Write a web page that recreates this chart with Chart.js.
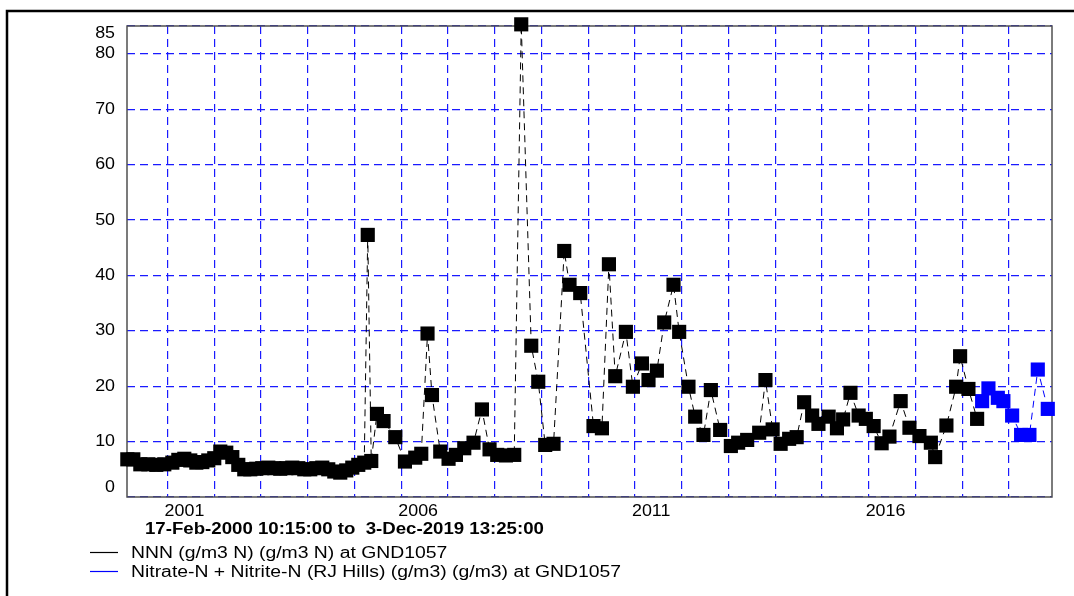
<!DOCTYPE html>
<html>
<head>
<meta charset="utf-8">
<script src="https://cdn.jsdelivr.net/npm/chart.js@4.4.0/dist/chart.umd.min.js"></script>
<style>
  html, body { margin: 0; padding: 0; background: #fff; }
  canvas { display: block; }
</style>
</head>
<body>
<canvas id="nitrateChart" width="1074" height="596"></canvas>
<script>
// Sample times as decimal years, concentrations in g/m3
const nnnDates = [
    2000.138, 2000.266, 2000.416, 2000.587, 2000.758, 2000.929, 2001.101, 2001.229, 2001.357, 2001.485,
    2001.614, 2001.742, 2001.870, 2001.998, 2002.127, 2002.255, 2002.384, 2002.512, 2002.640, 2002.769,
    2002.897, 2003.025, 2003.154, 2003.282, 2003.410, 2003.539, 2003.667, 2003.796, 2003.924, 2004.052,
    2004.181, 2004.309, 2004.437, 2004.566, 2004.694, 2004.822, 2004.951, 2005.079, 2005.207,
    2005.282, 2005.357, 2005.479, 2005.620, 2005.871, 2006.078, 2006.298, 2006.427, 2006.561, 2006.656,
    2006.833, 2007.011, 2007.169, 2007.347, 2007.545, 2007.725, 2007.888, 2008.052, 2008.239, 2008.416,
    2008.566, 2008.780, 2008.930, 2009.079, 2009.257, 2009.486, 2009.599, 2009.828, 2010.112, 2010.292,
    2010.442, 2010.577, 2010.805, 2010.955, 2011.148, 2011.289, 2011.468, 2011.625, 2011.824, 2011.945,
    2012.144, 2012.288, 2012.465, 2012.623, 2012.822, 2013.051, 2013.207, 2013.400, 2013.657, 2013.791,
    2013.945, 2014.116, 2014.298, 2014.459, 2014.619, 2014.790, 2014.925, 2015.143, 2015.321, 2015.453,
    2015.610, 2015.785, 2015.939, 2016.106, 2016.277, 2016.444, 2016.684, 2016.872, 2017.086, 2017.330,
    2017.422, 2017.663, 2017.871, 2017.956, 2018.134, 2018.320
];
const nnnValues = [
    6.8, 6.8, 5.9, 5.9, 5.8, 5.9, 6.2, 6.7, 6.9, 6.6,
    6.2, 6.3, 6.6, 7.0, 8.2, 8.0, 7.2, 5.8, 5.0, 5.0,
    5.1, 5.2, 5.3, 5.2, 5.1, 5.2, 5.3, 5.2, 5.0, 5.0,
    5.2, 5.3, 5.0, 4.6, 4.4, 4.8, 5.3, 5.8, 6.2,
    47.3, 6.5, 15.0, 13.7, 10.8, 6.4, 7.1, 7.8, 29.5, 18.4,
    8.2, 6.9, 7.6, 8.8, 9.8, 15.8, 8.6, 7.6, 7.5, 7.6,
    85.3, 27.3, 20.8, 9.4, 9.6, 44.4, 38.3, 36.8, 12.8, 12.4,
    42.0, 21.8, 29.8, 19.9, 24.1, 21.1, 22.8, 31.5, 38.3, 29.8,
    19.9, 14.5, 11.2, 19.3, 12.1, 9.2, 9.8, 10.3, 11.6, 21.1,
    12.2, 9.6, 10.5, 10.8, 17.1, 14.7, 13.2, 14.5, 12.4, 14.0,
    18.8, 14.7, 14.1, 12.8, 9.7, 10.9, 17.3, 12.5, 11.0, 9.8,
    7.2, 12.9, 19.9, 25.4, 19.5, 14.1
];

// RJ Hills lab results
const rjDates = [2018.427, 2018.562, 2018.763, 2018.882, 2019.069, 2019.261, 2019.439, 2019.618, 2019.832];
const rjValues = [17.3, 19.6, 17.9, 17.3, 14.7, 11.2, 11.2, 23.0, 15.9];

// Axis labels and texts
const yearLabels = [2001, 2006, 2011, 2016];
const periodText = '17-Feb-2000 10:15:00 to  3-Dec-2019 13:25:00';
const seriesNames = [
    'NNN (g/m3 N) (g/m3 N) at GND1057',
    'Nitrate-N + Nitrite-N (RJ Hills) (g/m3) (g/m3) at GND1057'
];
const seriesColors = ['#000000', '#0000ff'];

const startYear = 2000.131; // 17-Feb-2000
const endYear = 2019.922;   // 3-Dec-2019

const FONT = '"Liberation Sans", Arial, sans-serif';

function toPoints(dates, values) {
    return dates.map((d, i) => ({ x: d, y: values[i] }));
}

// draw text stretched horizontally, as the logger plots do
function wideText(ctx, text, x, y, sx, align) {
    ctx.save();
    ctx.translate(x, y);
    ctx.scale(sx, 1);
    ctx.textAlign = align || 'left';
    ctx.fillText(text, 0, 0);
    ctx.restore();
}

// Plot frame, axis labels, period caption and legend
const decorPlugin = {
    id: 'decor',
    beforeDatasetsDraw(chart) {
        const ctx = chart.ctx;
        const area = chart.chartArea;
        ctx.save();
        ctx.strokeStyle = '#505050';
        ctx.lineWidth = 1.5;
        ctx.strokeRect(area.left, area.top, area.right - area.left, area.bottom - area.top);
        ctx.restore();
    },
    afterDraw(chart) {
        const ctx = chart.ctx;
        const area = chart.chartArea;
        const xScale = chart.scales.x;
        const yScale = chart.scales.y;

        ctx.save();

        // outer page border
        ctx.strokeStyle = '#000';
        ctx.lineWidth = 2.5;
        ctx.beginPath();
        ctx.moveTo(7, chart.height);
        ctx.lineTo(7, 11);
        ctx.lineTo(chart.width, 11);
        ctx.stroke();

        ctx.fillStyle = '#000';

        // y tick labels, end ones pulled inside the frame
        ctx.font = '17px ' + FONT;
        ctx.textBaseline = 'middle';
        yScale.ticks.forEach(t => {
            let y = yScale.getPixelForValue(t.value);
            if (t.value === yScale.max) y += 7;
            if (t.value === yScale.min) y -= 10;
            wideText(ctx, String(t.value), area.left - 12, y, 1.05, 'right');
        });

        // year labels
        ctx.textBaseline = 'alphabetic';
        yearLabels.forEach(yr => {
            const x = xScale.getPixelForValue(yr);
            wideText(ctx, String(yr), x - 3, area.bottom + 19, 1.05, 'left');
        });

        // period caption
        ctx.font = 'bold 16px ' + FONT;
        wideText(ctx, periodText, 145, area.bottom + 37, 1.165, 'left');

        // legend
        ctx.font = '16px ' + FONT;
        seriesNames.forEach((name, i) => {
            const y = area.bottom + 55 + i * 19;
            ctx.strokeStyle = seriesColors[i];
            ctx.lineWidth = 1.2;
            ctx.beginPath();
            ctx.moveTo(90, y + 0.5);
            ctx.lineTo(118, y + 0.5);
            ctx.stroke();
            ctx.fillStyle = '#000';
            wideText(ctx, name, 131, y + 5.5, 1.21, 'left');
        });

        ctx.restore();
    }
};

const gridColor = '#1a1aff';

new Chart(document.getElementById('nitrateChart').getContext('2d'), {
    type: 'scatter',
    data: {
        datasets: [
            {
                label: seriesNames[0],
                data: toPoints(nnnDates, nnnValues),
                showLine: true,
                borderColor: seriesColors[0],
                borderWidth: 1,
                borderDash: [7, 5],
                backgroundColor: seriesColors[0],
                pointStyle: 'rect',
                pointRadius: 10,
                pointBorderWidth: 0,
                pointBackgroundColor: seriesColors[0],
                clip: false
            },
            {
                label: seriesNames[1],
                data: toPoints(rjDates, rjValues),
                showLine: true,
                borderColor: seriesColors[1],
                borderWidth: 1,
                borderDash: [7, 5],
                backgroundColor: seriesColors[1],
                pointStyle: 'rect',
                pointRadius: 10,
                pointBorderWidth: 0,
                pointBackgroundColor: seriesColors[1],
                clip: false
            }
        ]
    },
    options: {
        responsive: false,
        animation: false,
        layout: {
            padding: { left: 127, top: 26, right: 22, bottom: 99 }
        },
        plugins: {
            legend: { display: false },
            tooltip: { enabled: false }
        },
        scales: {
            x: {
                type: 'linear',
                min: startYear,
                max: endYear,
                ticks: { stepSize: 1, includeBounds: false, display: false },
                grid: { color: gridColor, lineWidth: 1.2, drawTicks: false },
                border: { display: false, dash: [8, 5] }
            },
            y: {
                type: 'linear',
                min: 0,
                max: 85,
                ticks: { stepSize: 10, display: false },
                grid: { color: gridColor, lineWidth: 1.2, drawTicks: false },
                border: { display: false, dash: [8, 5] }
            }
        }
    },
    plugins: [decorPlugin]
});
</script>
</body>
</html>
